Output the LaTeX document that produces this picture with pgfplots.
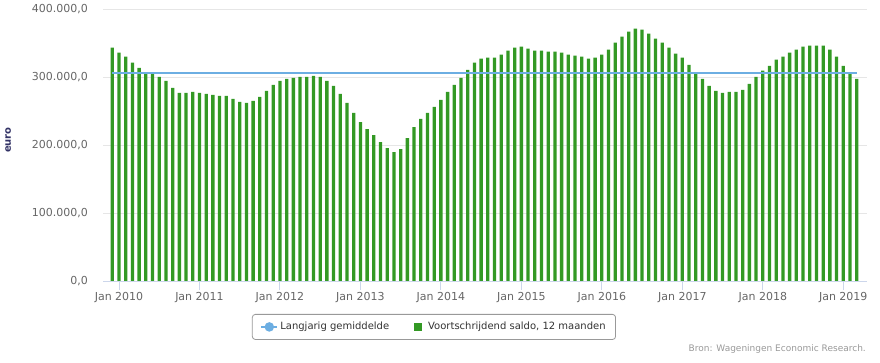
\documentclass[border=0pt]{standalone}
\usepackage{fontspec}
\setmainfont{DejaVu Sans}
\usepackage{pgfplots}
\usepackage{pgfplotstable}
\pgfplotsset{compat=1.18}
\definecolor{bargreen}{RGB}{51,153,36}
\definecolor{avgblue}{RGB}{108,174,226}
\definecolor{axisline}{HTML}{CCD6EB}
\definecolor{gridgray}{HTML}{E6E6E6}
\definecolor{ticktext}{HTML}{666666}
\definecolor{legtext}{HTML}{333333}
\definecolor{srctext}{HTML}{999999}
\definecolor{ytitle}{HTML}{333366}

\pgfplotstableread{
m val
-1 343100
0 335700
1 329800
2 321000
3 313600
4 305200
5 305200
6 300300
7 294400
8 284100
9 276700
10 276700
11 278200
12 276700
13 275200
14 273700
15 272200
16 272200
17 267800
18 263400
19 261900
20 264800
21 270800
22 279600
23 288500
24 294400
25 297300
26 298800
27 300300
28 300300
29 301800
30 300300
31 294400
32 287000
33 275200
34 261900
35 247100
36 233800
37 223500
38 214600
39 204300
40 195400
41 189500
42 193900
43 210200
44 226400
45 238300
46 247100
47 256000
48 266300
49 278200
50 288500
51 298800
52 310600
53 321000
54 326900
55 328400
56 328400
57 332800
58 338700
59 343100
60 344600
61 341600
62 338700
63 338700
64 337200
65 337200
66 335700
67 332800
68 331300
69 329800
70 326900
71 328400
72 332800
73 340100
74 350500
75 359400
76 366800
77 371200
78 369700
79 363800
80 356400
81 350500
82 343100
83 334200
84 328400
85 318000
86 306200
87 297300
88 287000
89 279600
90 276700
91 278200
92 278200
93 281100
94 290000
95 300300
96 309200
97 316500
98 325400
99 329800
100 335700
101 340100
102 344600
103 346000
104 346000
105 346000
106 340100
107 329800
108 316500
109 304700
110 297300
}\saldo

\begin{document}
\begin{tikzpicture}
\path (0,0) rectangle (880bp,363bp);
\begin{axis}[
  at={(103bp,82bp)}, anchor=south west,
  scale only axis, width=764bp, height=272bp,
  xmin=-2.386, xmax=111.54, ymin=0, ymax=400000,
  separate axis lines,
  axis x line*=bottom, axis y line*=left,
  x axis line style={draw=axisline, line width=1bp},
  y axis line style={draw=none},
  ymajorgrids, grid style={draw=gridgray, line width=1bp},
  tick align=outside, major tick length=9bp,
  xtick={0,12,24,36,48,60,72,84,96,108},
  xticklabels={Jan 2010,Jan 2011,Jan 2012,Jan 2013,Jan 2014,Jan 2015,Jan 2016,Jan 2017,Jan 2018,Jan 2019},
  xtick style={draw=axisline, line width=1bp},
  ytick={0,100000,200000,300000,400000},
  yticklabels={{0,0},{100.000,0},{200.000,0},{300.000,0},{400.000,0}},
  scaled y ticks=false,
  ytick style={draw=none},
  xticklabel style={font=\fontsize{11bp}{13bp}\selectfont, text=ticktext, inner sep=0pt, anchor=north, yshift=-2bp},
  yticklabel style={font=\fontsize{11bp}{13bp}\selectfont, text=ticktext, inner sep=0pt, anchor=east, xshift=-6bp},
  ylabel={euro},
  every axis y label/.style={at={(axis description cs:-0.1243,0.518)}, rotate=90, anchor=center, font=\bfseries\fontsize{10bp}{12bp}\selectfont, text=ytitle, inner sep=0pt},
  legend columns=2,
  legend style={at={(0.4332,-0.1213)}, anchor=north, draw=gray!80, line width=0.8bp, rounded corners=3bp,
    font=\fontsize{10bp}{12bp}\selectfont, text=legtext, inner xsep=8bp, inner ysep=6bp,
    /tikz/every even column/.append style={column sep=19bp}},
]
\addplot[ybar, bar width=3.3bp, fill=bargreen, draw=none, forget plot]
  table[x=m, y=val]{\saldo};
\addplot[avgblue, line width=2bp, mark=none,
  legend image code/.code={\draw[avgblue, line width=2bp, sharp corners] (0bp,0bp) -- (16bp,0bp); \fill[avgblue] (8bp,0bp) circle (3.7bp);}]
  coordinates {(-1,306600) (110,306600)};
\addlegendentry{Langjarig gemiddelde}
\addlegendimage{draw=none, legend image code/.code={\path[draw=none, fill=none] (0bp,-4bp) rectangle (16bp,4bp); \path[fill=bargreen, draw=none, sharp corners] (4bp,-4bp) rectangle (12bp,4bp);}}
\addlegendentry{Voortschrijdend saldo, 12 maanden}
\end{axis}
\node[anchor=base east, font=\fontsize{9bp}{11bp}\selectfont, text=srctext, inner sep=0pt] at (866bp,12bp) {Bron: Wageningen Economic Research.};
\end{tikzpicture}
\end{document}
